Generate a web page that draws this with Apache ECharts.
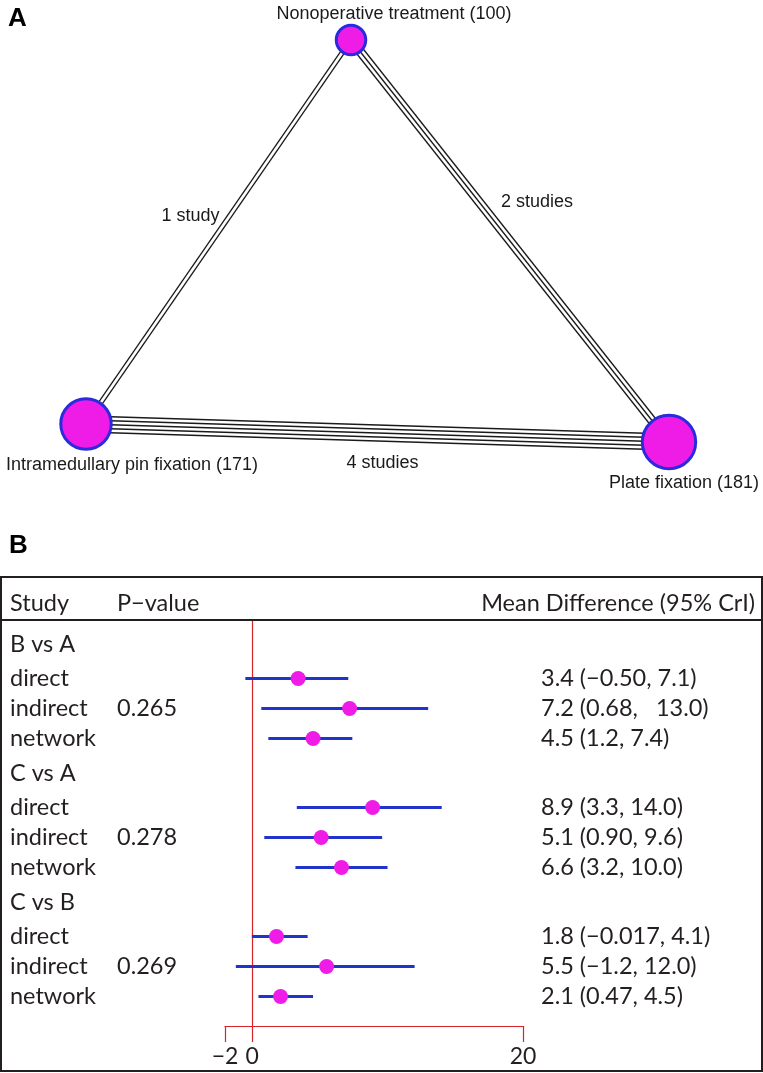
<!DOCTYPE html>
<html>
<head>
<meta charset="utf-8">
<script src="https://cdn.jsdelivr.net/npm/echarts@6/dist/echarts.min.js"></script>
<style>
html,body{margin:0;padding:0;background:#fff;}
#c{width:763px;height:1073px;}
</style>
</head>
<body>
<div id="c"></div>
<script>
// ---------- Panel A data ----------
const treatments = ['Nonoperative treatment', 'Intramedullary pin fixation', 'Plate fixation'];
const patients = [100, 171, 181];
const edgeFrom = [0, 0, 1];
const edgeTo = [1, 2, 2];
const edgeStudies = [1, 2, 4];

// ---------- Panel B data ----------
const comparisons = ['B vs A', 'C vs A', 'C vs B'];
const evidenceTypes = ['direct', 'indirect', 'network'];
const pValues = ['0.265', '0.278', '0.269'];
const meanDiff = [[3.4, 7.2, 4.5], [8.9, 5.1, 6.6], [1.8, 5.5, 2.1]];
const lowerCrI = [[-0.50, 0.68, 1.2], [3.3, 0.90, 3.2], [-0.017, -1.2, 0.47]];
const upperCrI = [[7.1, 13.0, 7.4], [14.0, 9.6, 10.0], [4.1, 12.0, 4.5]];
const estimateLabels = [
  ['3.4 (\u22120.50, 7.1)', '7.2 (0.68,   13.0)', '4.5 (1.2, 7.4)'],
  ['8.9 (3.3, 14.0)', '5.1 (0.90, 9.6)', '6.6 (3.2, 10.0)'],
  ['1.8 (\u22120.017, 4.1)', '5.5 (\u22121.2, 12.0)', '2.1 (0.47, 4.5)']
];
const xTickLabels = [-2, 0, 20];
const nullEffect = 0;

// ---------- layout (positions/styles) ----------
const nodePos = [[351, 40], [86, 424], [669, 442]];
const nodeLabelOffset = [[43, 0], [46, 0], [15, 0]];
const nodeLabelPos = ['top', 'bottom', 'bottom'];
const nodeLabelDist = [1, 5, 4];
const edgeLabelOffset = [[-28, -16], [27, -39], [5, 30]];
const sizeFactor = 0.295;
const stripeSpacing = 4;
const stripeLine = 1.3;

const MAGENTA = '#EE1CE6';
const BLUE_BORDER = '#2B2BDD';
const CI_BLUE = '#2233CC';
const RED = '#D8232A';
const INK = '#231F20';
const FONT_A = 'Liberation Sans, Arial, sans-serif';
const FONT_B = 'Lato, sans-serif';
const FS_B = 23.5;

// ---- Panel A stripes (multi-line edges) ----
const stripeSeries = [];
let maxLayers = 0;
const layersPerEdge = edgeStudies.map(k => {
  const layers = [];
  let w = k * stripeSpacing;
  while (w > 0) {
    layers.push({ width: w + stripeLine, color: '#1a1a1a' });
    layers.push({ width: w - stripeLine, color: '#ffffff' });
    w -= 2 * stripeSpacing;
  }
  if (w === 0) layers.push({ width: stripeLine, color: '#1a1a1a' });
  maxLayers = Math.max(maxLayers, layers.length);
  return layers;
});
for (let j = 0; j < maxLayers; j++) {
  const data = [];
  edgeStudies.forEach((k, e) => {
    const L = layersPerEdge[e][j];
    if (!L) return;
    data.push({
      coords: [nodePos[edgeFrom[e]], nodePos[edgeTo[e]]],
      lineStyle: { width: L.width, color: L.color, opacity: 1 }
    });
  });
  stripeSeries.push({
    type: 'lines', coordinateSystem: 'cartesian2d', xAxisIndex: 0, yAxisIndex: 0,
    polyline: false, silent: true, z: 2 + j,
    lineStyle: { curveness: 0, cap: 'butt' },
    data: data
  });
}

const edgeLabelData = edgeStudies.map((k, e) => {
  const a = nodePos[edgeFrom[e]], b = nodePos[edgeTo[e]];
  return {
    value: [(a[0] + b[0]) / 2 + edgeLabelOffset[e][0], (a[1] + b[1]) / 2 + edgeLabelOffset[e][1]],
    studies: k
  };
});

const nodes = treatments.map((t, i) => ({
  name: t,
  value: nodePos[i],
  symbolSize: patients[i] * sizeFactor,
  label: {
    show: true, position: nodeLabelPos[i], distance: nodeLabelDist[i], offset: nodeLabelOffset[i],
    formatter: t + ' (' + patients[i] + ')',
    fontFamily: FONT_A, fontSize: 18, color: '#1a1a1a'
  }
}));

// ---- Panel B rows ----
const groupStep = 4.3, itemStart = 1.15;
const leftVals = [], leftText = {}, pVals = [], pText = {}, rightVals = [], rightText = {};
const ciData = [], pointData = [];
const key = v => v.toFixed(2);
comparisons.forEach((c, g) => {
  const hy = g * groupStep;
  leftVals.push(hy); leftText[key(hy)] = c;
  evidenceTypes.forEach((ev, k) => {
    const y = hy + itemStart + k;
    leftVals.push(y); leftText[key(y)] = ev;
    rightVals.push(y); rightText[key(y)] = estimateLabels[g][k];
    if (ev === 'indirect') { pVals.push(y); pText[key(y)] = pValues[g]; }
    ciData.push([lowerCrI[g][k], upperCrI[g][k], y]);
    pointData.push([meanDiff[g][k], y]);
  });
});

const gridBTop = 620, gridBBottom = 1026;
const rowPx = 30, firstRowPx = 644;
const yMinB = (gridBTop - firstRowPx) / rowPx;
const yMaxB = (gridBBottom - firstRowPx) / rowPx;

const textAxisBase = (vals, map, margin, position) => ({
  gridIndex: 1, type: 'value', min: yMinB, max: yMaxB, inverse: true, position: position,
  axisLine: { show: false }, axisTick: { show: false }, splitLine: { show: false },
  axisLabel: {
    customValues: vals, margin: margin, align: 'left',
    fontFamily: FONT_B, fontSize: FS_B, color: INK,
    formatter: v => map[key(v)] || ''
  }
});

const option = {
  animation: false,
  backgroundColor: '#fff',
  grid: [
    { left: 0, top: 0, width: 763, height: 520, show: false },
    { left: 225, top: gridBTop, width: 298, height: gridBBottom - gridBTop, show: false }
  ],
  xAxis: [
    { gridIndex: 0, type: 'value', min: 0, max: 763, show: false },
    {
      gridIndex: 1, type: 'value', min: -2, max: 20, interval: 22,
      axisLine: { show: true, onZero: false, lineStyle: { color: RED, width: 1.2 } },
      axisTick: { show: true, customValues: [-2, 0, 20], length: 16, lineStyle: { color: RED, width: 1.2 } },
      axisLabel: {
        customValues: xTickLabels, margin: 19, fontFamily: FONT_B, fontSize: 23, color: INK,
        formatter: v => (v < 0 ? '\u2212' + Math.abs(v) : String(v))
      },
      splitLine: { show: false }
    }
  ],
  yAxis: [
    { gridIndex: 0, type: 'value', min: 0, max: 520, inverse: true, show: false },
    textAxisBase(leftVals, leftText, 215, 'left'),
    textAxisBase(pVals, pText, 108, 'left'),
    textAxisBase(rightVals, rightText, 18, 'right')
  ],
  series: [
    ...stripeSeries,
    {
      type: 'graph', coordinateSystem: 'cartesian2d', xAxisIndex: 0, yAxisIndex: 0,
      layout: 'none', z: 20, silent: true,
      itemStyle: { color: MAGENTA, borderColor: BLUE_BORDER, borderWidth: 3 },
      data: nodes, links: []
    },
    {
      type: 'scatter', xAxisIndex: 0, yAxisIndex: 0, symbolSize: 0, silent: true, z: 21,
      itemStyle: { opacity: 1 },
      data: edgeLabelData,
      label: {
        show: true, position: 'inside', fontFamily: FONT_A, fontSize: 18, color: '#1a1a1a', opacity: 1,
        formatter: p => p.data.studies + (p.data.studies === 1 ? ' study' : ' studies')
      }
    },
    {
      type: 'custom', xAxisIndex: 1, yAxisIndex: 1, z: 5, silent: true,
      data: ciData,
      encode: { x: [0, 1], y: 2 },
      renderItem: (params, api) => {
        const p1 = api.coord([api.value(0), api.value(2)]);
        const p2 = api.coord([api.value(1), api.value(2)]);
        return {
          type: 'line',
          shape: { x1: p1[0], y1: p1[1], x2: p2[0], y2: p2[1] },
          style: { stroke: CI_BLUE, lineWidth: 3.2, lineCap: 'butt' }
        };
      }
    },
    {
      type: 'scatter', xAxisIndex: 1, yAxisIndex: 1, z: 6, silent: true,
      symbol: 'circle', symbolSize: 15,
      itemStyle: { color: MAGENTA, opacity: 1 },
      data: pointData,
      markLine: {
        silent: true, symbol: ['none', 'none'], animation: false,
        label: { show: false },
        lineStyle: { color: RED, width: 1.2, type: 'solid' },
        data: [{ xAxis: nullEffect }]
      }
    }
  ],
  graphic: [
    { type: 'text', x: 8, y: 6, style: { text: 'A', font: 'bold 26px ' + FONT_A, fill: '#000' }, z: 100 },
    { type: 'text', x: 9, y: 533, style: { text: 'B', font: 'bold 26px ' + FONT_A, fill: '#000' }, z: 100 },
    { type: 'rect', shape: { x: 1, y: 577, width: 761, height: 494 }, style: { fill: 'none', stroke: INK, lineWidth: 2 }, z: 100 },
    { type: 'line', shape: { x1: 1, y1: 620, x2: 762, y2: 620 }, style: { stroke: INK, lineWidth: 2 }, z: 100 },
    { type: 'text', x: 10, y: 603, style: { text: 'Study', font: FS_B + 'px ' + FONT_B, fill: INK, align: 'left', verticalAlign: 'middle' }, z: 100 },
    { type: 'text', x: 117, y: 603, style: { text: 'P\u2212value', font: FS_B + 'px ' + FONT_B, fill: INK, align: 'left', verticalAlign: 'middle' }, z: 100 },
    { type: 'text', x: 755, y: 603, style: { text: 'Mean Difference (95% CrI)', font: FS_B + 'px ' + FONT_B, fill: INK, align: 'right', verticalAlign: 'middle' }, z: 100 }
  ]
};

const chart = echarts.init(document.getElementById('c'));
chart.setOption(option);
</script>
</body>
</html>
